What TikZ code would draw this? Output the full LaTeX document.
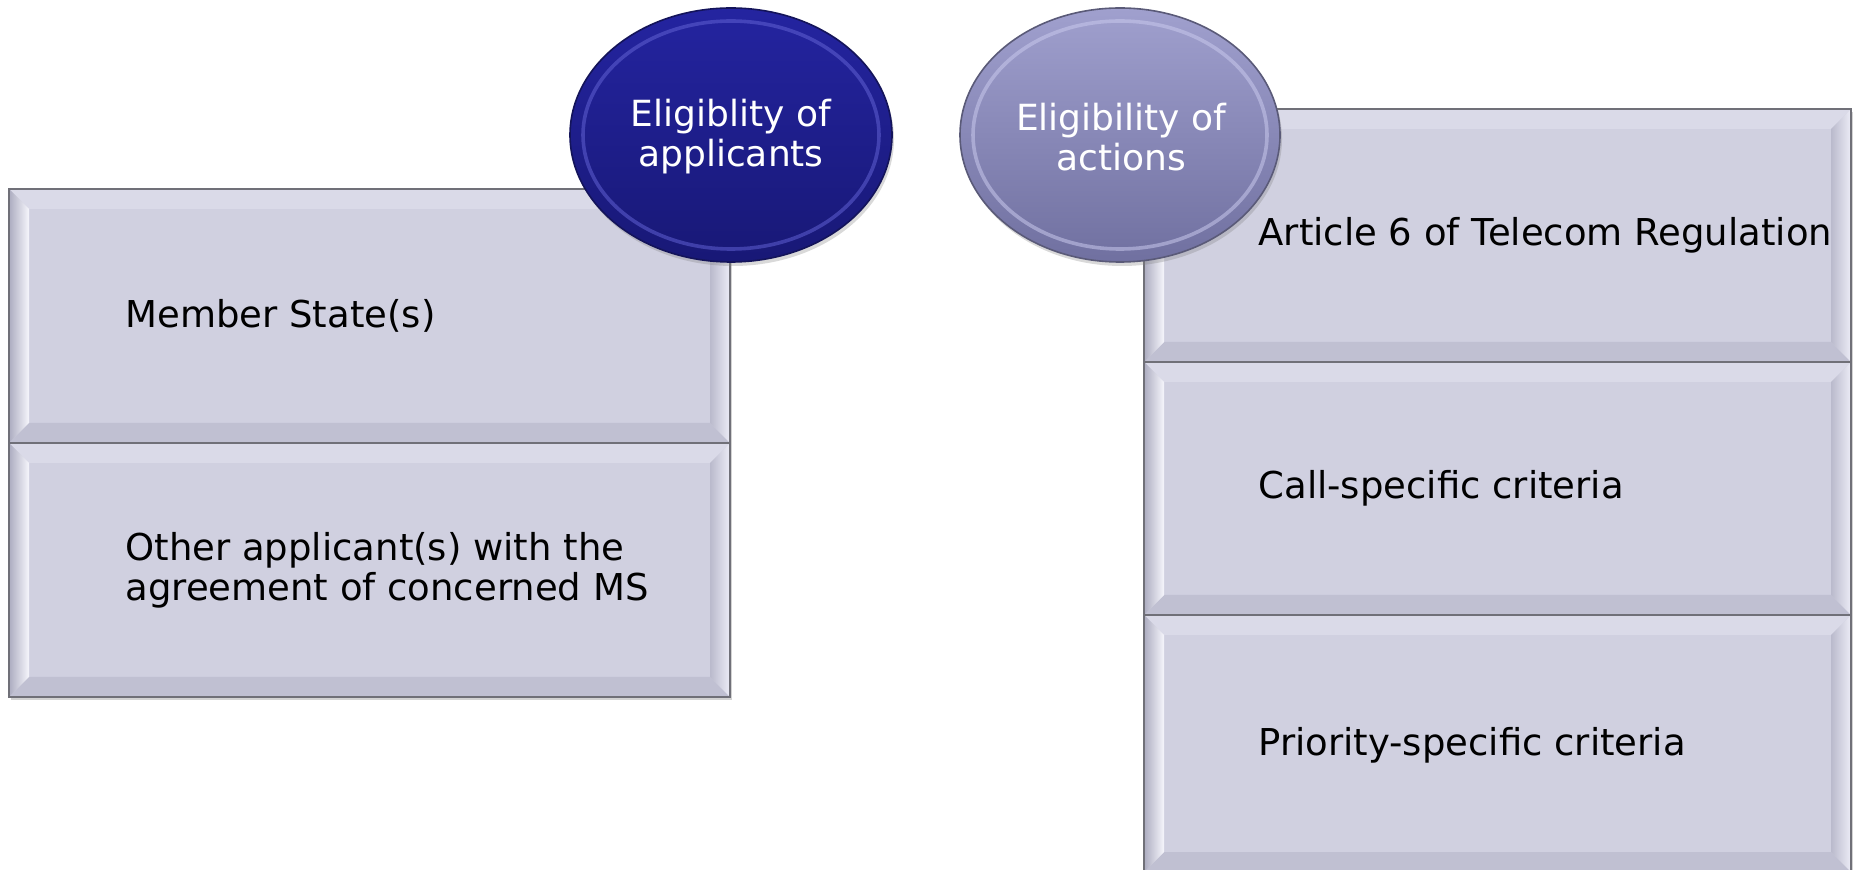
\documentclass[tikz,border=0pt]{standalone}
\usepackage{fontspec}
\setmainfont{DejaVu Sans}
\usetikzlibrary{shapes.geometric,shadows}
\definecolor{cellfill}{RGB}{208,208,224}
\definecolor{cellborder}{RGB}{112,112,120}
\definecolor{bevtop}{RGB}{218,218,232}
\definecolor{bevbot}{RGB}{192,192,210}
\definecolor{bevLa}{RGB}{172,172,192}
\definecolor{bevLb}{RGB}{246,246,252}
\definecolor{bevRa}{RGB}{186,186,204}
\definecolor{bevRb}{RGB}{236,236,246}
\definecolor{darktop}{RGB}{36,36,160}
\definecolor{darkbot}{RGB}{24,24,118}
\definecolor{darkedge}{RGB}{20,20,90}
\definecolor{darkring}{RGB}{96,96,210}
\definecolor{lighttop}{RGB}{160,160,206}
\definecolor{lightbot}{RGB}{112,112,160}
\definecolor{lightedge}{RGB}{90,90,120}
\definecolor{lightring}{RGB}{200,200,236}
\tikzset{
  cell/.style={rectangle, inner sep=0pt, fill=cellfill, draw=cellborder, line width=0.9pt,
    drop shadow={shadow xshift=1.2pt, shadow yshift=-1.5pt, opacity=0.35},
    path picture={
      \path (path picture bounding box.south west) coordinate (@sw)
            (path picture bounding box.north east) coordinate (@ne)
            (path picture bounding box.north west) coordinate (@nw)
            (path picture bounding box.south east) coordinate (@se);
      \fill[bevtop] (@nw) -- (@ne) -- ([shift={(-10pt,-10pt)}]@ne) -- ([shift={(10pt,-10pt)}]@nw) -- cycle;
      \fill[bevbot] (@sw) -- (@se) -- ([shift={(-10pt,10pt)}]@se) -- ([shift={(10pt,10pt)}]@sw) -- cycle;
      \shade[left color=bevLa, right color=bevLb] (@nw) -- ([shift={(10pt,-10pt)}]@nw) -- ([shift={(10pt,10pt)}]@sw) -- (@sw) -- cycle;
      \shade[left color=bevRa, right color=bevRb] (@ne) -- ([shift={(-10pt,-10pt)}]@ne) -- ([shift={(-10pt,10pt)}]@se) -- (@se) -- cycle;
    }},
  celltext/.style={anchor=west, inner sep=0pt, align=left, text=black,
    font=\fontsize{18.5}{20}\selectfont},
  bubble/.style={ellipse, inner sep=0pt, line width=0.8pt, align=center, text=white,
    font=\fontsize{18}{20}\selectfont,
    drop shadow={shadow xshift=1pt, shadow yshift=-2pt, opacity=0.3}},
  darkbubble/.style={bubble, draw=darkedge, top color=darktop, bottom color=darkbot},
  lightbubble/.style={bubble, draw=lightedge, top color=lighttop, bottom color=lightbot},
  bubbletext/.style={text=white, align=center, inner sep=0pt, font=\fontsize{18}{20}\selectfont},
}
\begin{document}
\begin{tikzpicture}[x=0.5pt,y=-0.5pt]
\useasboundingbox (0,0) rectangle (1857,870);
\begin{scope}
\clip (0,0) rectangle (1857,870);
% left stack
\node[cell, minimum width=360.5pt, minimum height=127pt] (L1) at (369.5,316) {};
\node[cell, minimum width=360.5pt, minimum height=127pt] (L2) at (369.5,570) {};
\node[celltext] (tL1) at ([xshift=58.5pt]L1.west) {Member State(s)};
\node[celltext] (tL2) at ([xshift=58.5pt]L2.west) {Other applicant(s) with the\\agreement of concerned MS};
% right stack
\node[cell, minimum width=353.5pt, minimum height=126.5pt] (R1) at (1497.5,235.5) {};
\node[cell, minimum width=353.5pt, minimum height=126.5pt] (R2) at (1497.5,488.5) {};
\node[cell, minimum width=353.5pt, minimum height=128.5pt] (R3) at (1497.5,743.5) {};
\node[celltext] (tR1) at ([xshift=57.5pt]R1.west) {Article 6 of Telecom Regulation};
\node[celltext] (tR2) at ([xshift=57.5pt]R2.west) {Call-specific criteria};
\node[celltext] (tR3) at ([xshift=57.5pt,yshift=-1pt]R3.west) {Priority-specific criteria};
% bubbles
\node[darkbubble, minimum width=161pt, minimum height=127pt] (B1) at (731,135) {};
\draw[darkring, line width=1.8pt, opacity=0.55] (B1.center) ellipse [x radius=148, y radius=114];
\node[bubbletext] (tB1) at (731,137) {Eligiblity of\\applicants};
\node[lightbubble, minimum width=160pt, minimum height=127pt] (B2) at (1120,135) {};
\draw[lightring, line width=1.8pt, opacity=0.55] (B2.center) ellipse [x radius=147, y radius=114];
\node[bubbletext] (tB2) at (1121,137) {Eligibility of\\actions};
\end{scope}
\end{tikzpicture}
\end{document}
